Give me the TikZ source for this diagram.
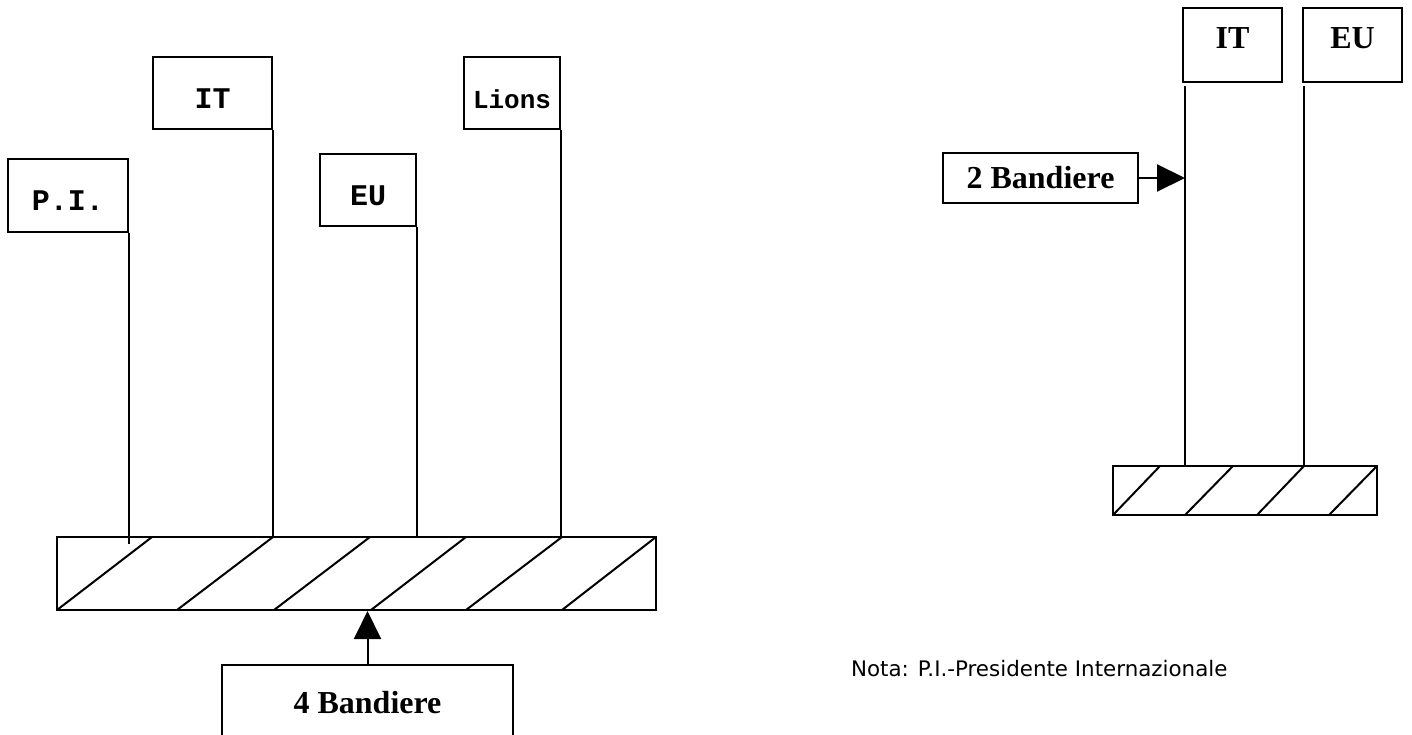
\documentclass[tikz,border=0pt]{standalone}
\usepackage{fontspec}
\usetikzlibrary{arrows.meta}
\newfontfamily\flagmono{Liberation Mono}
\newfontfamily\flagserif{Liberation Serif}
\newfontfamily\notefont{DejaVu Sans}

\begin{document}
\begin{tikzpicture} [x=1pt, y=-1pt, line width=2pt, %
  flag/.style={draw, rectangle, inner sep=0pt, minimum width=#1, minimum height=72pt}, %
  mono/.style={font=\fontsize{30}{30}\bfseries\flagmono, text height=31pt, text depth=0pt}, %
  serif/.style={font=\fontsize{32}{32}\bfseries\flagserif}, %
  high/.style={text height=22pt, text depth=14pt}, %
  base/.style={draw, rectangle, inner sep=0pt}, %
  hatch/.style={line width=2pt}, %
  tip/.style={-{Triangle[length=28pt, width=27pt]}}] %
\useasboundingbox (0,0) rectangle (1412,735); %
 %
% left: four flags
\node [flag=120pt, mono, minimum height=73pt] (pi) at (68,195.5) {P.I.}; %
\node [flag=119pt, mono] (itL) at (212.5,93) {IT}; %
\node [flag=96pt, mono] (euL) at (368,190) {EU}; %
\node [flag=96pt, mono, font=\fontsize{26}{26}\bfseries\flagmono] (lions) at (512,93) {Lions}; %
\node [base, minimum width=599pt, minimum height=73pt] (bar4) at (356.5,573.5) {}; %
\foreach \a/\b in {57/152, 177/273, 274/370, 371/466, 466/562, 562/656} %
  \draw [hatch] (\a,610) -- (\b,537); %
\draw (pi.south east) -- (pi.south east |- 0,544); %
\foreach \f in {itL, euL, lions} \draw (\f.south east) -- (\f.south east |- bar4.north); %
\node [base, serif, minimum width=291pt, minimum height=76pt] (band4) at (367.5,703) {4 Bandiere}; %
\draw [tip] (band4.north) -- (band4.north |- bar4.south); %
 %
% right: two flags
\node [flag=99pt, serif, high, minimum height=74pt] (itR) at (1232.5,45) {IT}; %
\node [flag=99pt, serif, high, minimum height=74pt] (euR) at (1352.5,45) {EU}; %
\node [base, minimum width=264pt, minimum height=49pt] (bar2) at (1245,490.5) {}; %
\coordinate (poleIT) at (1185,86); %
\coordinate (poleEU) at (1304,86); %
\draw (poleIT) -- (poleIT |- bar2.north); %
\draw (poleEU) -- (poleEU |- bar2.north); %
\foreach \a/\b in {1113/1160, 1185/1233, 1257/1304, 1329/1377} %
  \draw [hatch] (\a,515) -- (\b,466); %
\node [base, serif, minimum width=195pt, minimum height=50pt] (band2) at (1040.5,178) {2 Bandiere}; %
\draw [tip] (band2.east) -- (band2.east -| poleIT); %
 %
\node [anchor=base west, inner sep=0pt, font=\fontsize{21.4}{21.4}\notefont] (nota) at (850,676) %
  {Nota: P.I.-Presidente Internazionale}; %
\end{tikzpicture}
\end{document}
